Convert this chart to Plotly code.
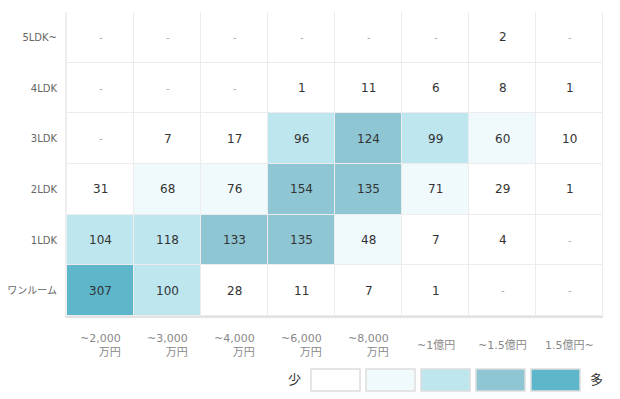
import plotly.graph_objects as go

price_labels = ["~2,000<br>万円", "~3,000<br>万円", "~4,000<br>万円", "~6,000<br>万円",
                "~8,000<br>万円", "~1億円", "~1.5億円", "1.5億円~"]
layouts = ["ワンルーム", "1LDK", "2LDK", "3LDK", "4LDK", "5LDK~"]

# rows bottom -> top (None = "-")
counts = [
    [307, 100, 28, 11, 7, 1, None, None],      # ワンルーム
    [104, 118, 133, 135, 48, 7, 4, None],      # 1LDK
    [31, 68, 76, 154, 135, 71, 29, 1],         # 2LDK
    [None, 7, 17, 96, 124, 99, 60, 10],        # 3LDK
    [None, None, None, 1, 11, 6, 8, 1],        # 4LDK
    [None, None, None, None, None, None, 2, None],  # 5LDK~
]

level_colors = ["#ffffff", "#f0fafd", "#bde6ef", "#8ec6d4", "#5db6ca"]
level_bounds = [40, 90, 120, 200]

def level(v):
    if v is None:
        return 0
    k = 0
    for b in level_bounds:
        if v >= b:
            k += 1
    return k

n = len(level_colors)
cs = []
for i, c in enumerate(level_colors):
    cs.append([i / n, c])
    cs.append([(i + 1) / n, c])

xs = list(range(len(price_labels)))
ys = list(range(len(layouts)))
z = [[level(v) for v in row] for row in counts]

FONT = "DejaVu Sans, Noto Sans CJK JP, sans-serif"

fig = go.Figure()
fig.add_trace(go.Heatmap(
    x=xs, y=ys, z=z, colorscale=cs, zmin=-0.5, zmax=n - 0.5,
    showscale=False, xgap=1, ygap=1, hoverinfo="skip",
))

# cell texts
for r, row in enumerate(counts):
    for c, v in enumerate(row):
        if v is None:
            fig.add_annotation(x=c, y=r, text="-", showarrow=False,
                               font=dict(size=10, color="#aaaaaa"))
        else:
            fig.add_annotation(x=c, y=r, text=str(v), showarrow=False,
                               font=dict(size=12, color="#333333"))

# x labels
for c, lab in enumerate(price_labels):
    fig.add_annotation(x=c, y=(316 - 345) / 304, xref="x", yref="paper", text=lab,
                       showarrow=False, align="right", yanchor="middle",
                       font=dict(size=11, color="#888888"))

# legend boxes (plot area maps 67..603 x 12..316 on the page)
lx0 = 311
bw = 49
step = 55
for i, col in enumerate(level_colors):
    x0 = lx0 + i * step
    fig.add_shape(type="rect", xref="paper", yref="paper",
                  x0=(x0 - 67) / 536, x1=(x0 + bw - 67) / 536,
                  y0=(316 - 391) / 304, y1=(316 - 369) / 304,
                  fillcolor=col, line=dict(color="#dddddd", width=1.5))
fig.add_annotation(xref="paper", yref="paper", x=(294 - 67) / 536, y=(316 - 389) / 304,
                   text="少", showarrow=False, font=dict(size=13, color="#333333"))
fig.add_annotation(xref="paper", yref="paper", x=(605 - 67) / 536, y=(316 - 389) / 304,
                   text="多", showarrow=False, font=dict(size=13, color="#333333"))

fig.update_xaxes(range=[-0.5, len(xs) - 0.5], showticklabels=False, showgrid=False,
                 zeroline=False, showline=True, linecolor="#e2e2e2", linewidth=2,
                 fixedrange=True, automargin=False)
fig.update_yaxes(range=[-0.5, len(ys) - 0.5], tickvals=ys, ticktext=layouts,
                 showgrid=False, zeroline=False, showline=True, linecolor="#eeeeee",
                 linewidth=2, ticks="", ticklabelstandoff=6, automargin=False,
                 tickfont=dict(size=10, color="#666666"), fixedrange=True)

fig.update_layout(
    width=620, height=399,
    margin=dict(l=59, r=25, t=4, b=91, autoexpand=False),
    paper_bgcolor="#ffffff", plot_bgcolor="#ececec",
    font=dict(family=FONT),
    showlegend=False,
)

fig.write_html("out.html")
